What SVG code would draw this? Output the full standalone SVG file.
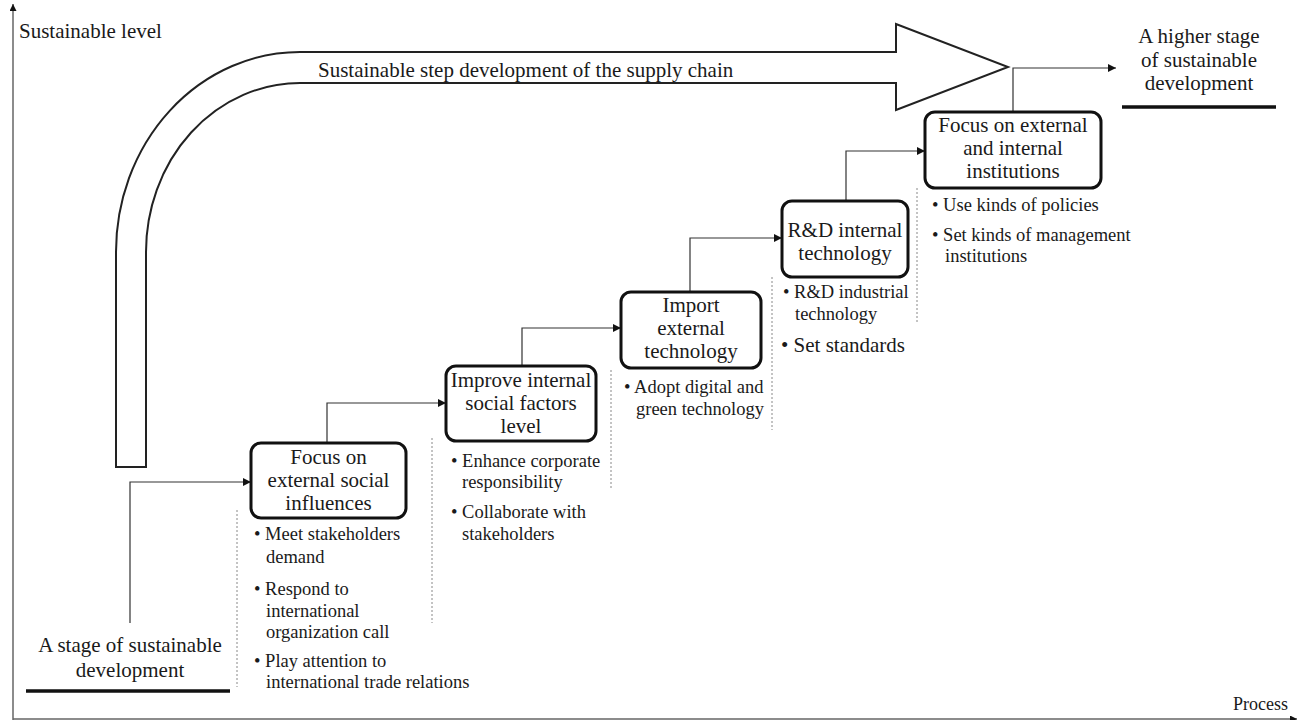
<svg xmlns="http://www.w3.org/2000/svg" width="1302" height="720" viewBox="0 0 1302 720">
<style>
text{font-family:"Liberation Serif","Times New Roman",serif;fill:#1a1a1a}
.t21{font-size:21px}
.bx{font-size:21px;text-anchor:middle}
.bl{font-size:18.5px}
.box{fill:#fff;stroke:#111;stroke-width:3}
.con{fill:none;stroke:#333;stroke-width:1.2}
.dash{fill:none;stroke:#888;stroke-width:1;stroke-dasharray:2,2}
.axis{fill:none;stroke:#666;stroke-width:1.5}
.ul{stroke:#111;stroke-width:3.5}
</style>
<defs>
<marker id="ah" viewBox="0 0 10 10" refX="10" refY="5" markerWidth="10" markerHeight="8" markerUnits="userSpaceOnUse" orient="auto">
<path d="M0,0 L10,5 L0,10 Z" fill="#111"/>
</marker>
<marker id="axh" viewBox="0 0 10 10" refX="10" refY="5" markerWidth="9" markerHeight="7" markerUnits="userSpaceOnUse" orient="auto">
<path d="M0,0 L10,5 L0,10 Z" fill="#111"/>
</marker>
</defs>

<g id="axes">
<path class="axis" d="M13,720 V4" marker-end="url(#axh)"/>
<path class="axis" d="M13,719 H1297" marker-end="url(#axh)"/>
<text class="t21" x="19" y="38">Sustainable level</text>
<text x="1233" y="710" style="font-size:18px">Process</text>
</g>

<g id="big-arrow">
<path d="M116,467 L116,252 A184,200 0 0 1 300,52 L896,52 L896,24 L1008,67 L896,110 L896,83 L300,83 A154,169 0 0 0 146,252 L146,467 Z" fill="#fff" stroke="#222" stroke-width="2"/>
<text class="t21" x="318" y="77">Sustainable step development of the supply chain</text>
</g>

<g id="start-stage">
<text class="bx" x="130" y="652">A stage of sustainable</text>
<text class="bx" x="130" y="677">development</text>
<line class="ul" x1="26" y1="691" x2="230" y2="691"/>
</g>

<g id="end-stage">
<text class="bx" x="1199" y="43">A higher stage</text>
<text class="bx" x="1199" y="67">of sustainable</text>
<text class="bx" x="1199" y="90">development</text>
<line class="ul" x1="1122" y1="107" x2="1276" y2="107"/>
</g>

<g id="connectors">
<path class="con" d="M130,623 V482 H251" marker-end="url(#ah)"/>
<path class="con" d="M327,443 V403 H446" marker-end="url(#ah)"/>
<path class="con" d="M522,366 V328 H621" marker-end="url(#ah)"/>
<path class="con" d="M690,292 V238 H782" marker-end="url(#ah)"/>
<path class="con" d="M846,201 V151 H925" marker-end="url(#ah)"/>
<path class="con" d="M1013,112 V68 H1116" marker-end="url(#ah)"/>
<line class="dash" x1="237" y1="510" x2="237" y2="687"/>
<line class="dash" x1="432" y1="438" x2="432" y2="623"/>
<line class="dash" x1="611" y1="370" x2="611" y2="488"/>
<line class="dash" x1="772" y1="277" x2="772" y2="430"/>
<line class="dash" x1="917" y1="188" x2="917" y2="323"/>
</g>

<g id="node-1">
<rect class="box" x="251" y="443" width="155" height="75" rx="10"/>
<text class="bx" x="328.5" y="464">Focus on</text>
<text class="bx" x="328.5" y="487">external social</text>
<text class="bx" x="328.5" y="510">influences</text>
<text class="bl" x="254" y="540">• Meet stakeholders</text>
<text class="bl" x="266" y="563">demand</text>
<text class="bl" x="254" y="595">• Respond to</text>
<text class="bl" x="266" y="617">international</text>
<text class="bl" x="266" y="638">organization call</text>
<text class="bl" x="254" y="667">• Play attention to</text>
<text class="bl" x="266" y="688">international trade relations</text>
</g>

<g id="node-2">
<rect class="box" x="446" y="366" width="150" height="75" rx="10"/>
<text class="bx" x="521" y="387">Improve internal</text>
<text class="bx" x="521" y="410">social factors</text>
<text class="bx" x="521" y="433">level</text>
<text class="bl" x="451" y="467">• Enhance corporate</text>
<text class="bl" x="462" y="488">responsibility</text>
<text class="bl" x="451" y="518">• Collaborate with</text>
<text class="bl" x="462" y="540">stakeholders</text>
</g>

<g id="node-3">
<rect class="box" x="621" y="292" width="140" height="76" rx="10"/>
<text class="bx" x="691" y="312">Import</text>
<text class="bx" x="691" y="335">external</text>
<text class="bx" x="691" y="358">technology</text>
<text class="bl" x="624" y="393">• Adopt digital and</text>
<text class="bl" x="636" y="415">green technology</text>
</g>

<g id="node-4">
<rect class="box" x="782" y="201" width="126" height="76" rx="10"/>
<text class="bx" x="845" y="237">R&amp;D internal</text>
<text class="bx" x="845" y="260">technology</text>
<text class="bl" x="783" y="298">• R&amp;D industrial</text>
<text class="bl" x="795" y="320">technology</text>
<text x="781" y="352" style="font-size:21px">• Set standards</text>
</g>

<g id="node-5">
<rect class="box" x="925" y="112" width="176" height="76" rx="10"/>
<text class="bx" x="1013" y="132">Focus on external</text>
<text class="bx" x="1013" y="155">and internal</text>
<text class="bx" x="1013" y="178">institutions</text>
<text class="bl" x="932" y="211">• Use kinds of policies</text>
<text class="bl" x="932" y="241">• Set kinds of management</text>
<text class="bl" x="945" y="262">institutions</text>
</g>
</svg>
